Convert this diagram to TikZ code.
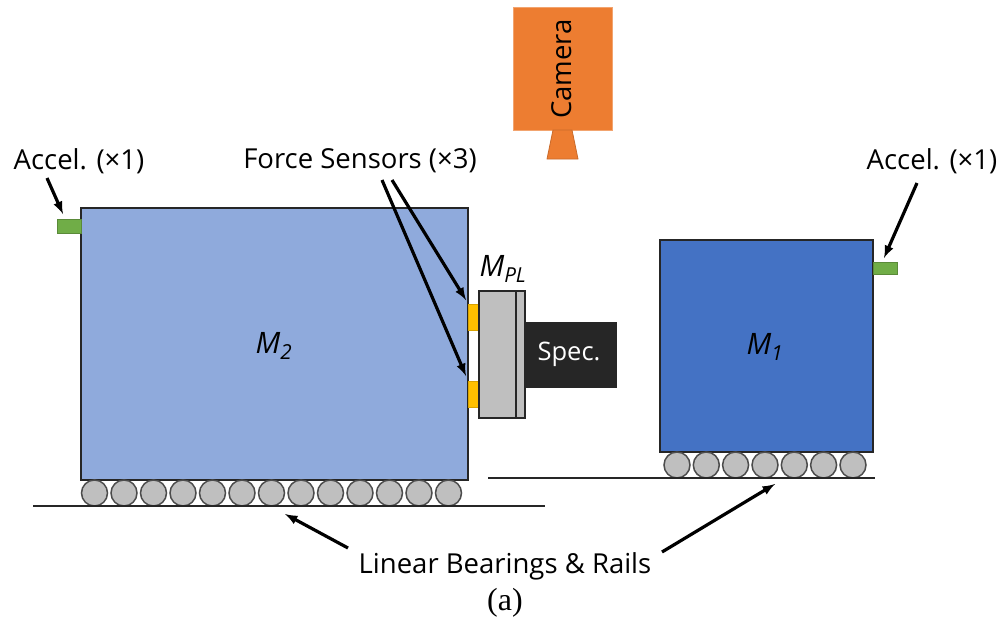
\documentclass[tikz,border=0pt]{standalone}
\usepackage{xcolor}
\usepackage{fontspec}
\setmainfont{Open Sans}
\newfontfamily\legendefont{Liberation Serif}
\definecolor{bleuclair}{HTML}{8FAADC}
\definecolor{bleufonce}{HTML}{4472C4}
\definecolor{orange}{HTML}{ED7D31}
\definecolor{vert}{HTML}{70AD47}
\definecolor{jaune}{HTML}{FFC000}
\definecolor{gris}{HTML}{BFBFBF}
\definecolor{noirspec}{HTML}{262626}
\begin{document}
\begin{tikzpicture}[x=1pt,y=-1pt]
% Styles
\tikzstyle{fleche}=[->,>=latex,line width=3.2pt,black]
\tikzstyle{bloc}=[rectangle,draw=black!85,line width=1.2pt,inner sep=0pt,outer sep=0pt]
\tikzstyle{capteur}=[rectangle,inner sep=0pt,outer sep=0pt,line width=.8pt]
\tikzstyle{rouleau}=[circle,fill=gris,draw=black!70,line width=1.5pt,minimum size=26pt,inner sep=0pt]
\tikzstyle{rail}=[line width=1.2pt,black!85]
\tikzstyle{texte}=[inner sep=0pt,font=\fontsize{27.5}{32}\selectfont]
\tikzstyle{masse}=[inner sep=0pt,font=\fontsize{29.5}{32}\selectfont\itshape]
% Dimensions
\def\NiveauA{493}
\def\NiveauB{465}
\useasboundingbox (0,0) rectangle (1004,619);
% Blocs
\node[bloc,fill=bleuclair,minimum width=387pt,minimum height=272pt] (M2) at (274.5,344) {};
\node[bloc,fill=bleufonce,minimum width=213pt,minimum height=212pt] (M1) at (766.5,346) {};
\node[capteur,fill=orange,draw=orange!70!white,minimum width=99pt,minimum height=123pt] (Cam) at (562.5,68.5) {};
\node[capteur,fill=vert,draw=vert!80!black,minimum width=24pt,minimum height=14pt] (AccG) at (69,226) {};
\node[capteur,fill=vert,draw=vert!80!black,minimum width=24pt,minimum height=12pt] (AccD) at (885,268) {};
\node[capteur,fill=jaune,draw=jaune!85!black,minimum width=10pt,minimum height=26pt] (CapA) at (473,317) {};
\node[capteur,fill=jaune,draw=jaune!85!black,minimum width=10pt,minimum height=26pt] (CapB) at (473,394) {};
\node[bloc,fill=noirspec,minimum width=91pt,minimum height=64pt] (Spec) at (570.5,355) {};
\node[bloc,fill=gris,minimum width=37pt,minimum height=127pt] (PlA) at (497.5,354.5) {};
\node[bloc,fill=gris,minimum width=9pt,minimum height=127pt] (PlB) at (520.5,354.5) {};
% Objectif
\fill[orange,draw=orange!85!black,line width=.8pt] (553,130) -- (572,130) -- (578,159) -- (547,159) -- cycle;
% Rouleaux
\node[rouleau] (Ra) at (94.5,\NiveauA) {};
\node[rouleau] (Rb) at (124,\NiveauA) {};
\node[rouleau] (Rc) at (153.5,\NiveauA) {};
\node[rouleau] (Rd) at (183,\NiveauA) {};
\node[rouleau] (Re) at (212.5,\NiveauA) {};
\node[rouleau] (Rf) at (242,\NiveauA) {};
\node[rouleau] (Rg) at (271.5,\NiveauA) {};
\node[rouleau] (Rh) at (301,\NiveauA) {};
\node[rouleau] (Ri) at (330.5,\NiveauA) {};
\node[rouleau] (Rj) at (360,\NiveauA) {};
\node[rouleau] (Rk) at (389.5,\NiveauA) {};
\node[rouleau] (Rl) at (419,\NiveauA) {};
\node[rouleau] (Rm) at (448.5,\NiveauA) {};
\node[rouleau] (Sa) at (677,\NiveauB) {};
\node[rouleau] (Sb) at (706.3,\NiveauB) {};
\node[rouleau] (Sc) at (735.6,\NiveauB) {};
\node[rouleau] (Sd) at (765,\NiveauB) {};
\node[rouleau] (Se) at (794.3,\NiveauB) {};
\node[rouleau] (Sf) at (823.6,\NiveauB) {};
\node[rouleau] (Sg) at (853,\NiveauB) {};
% Rails
\coordinate (RailAg) at (33,506);
\coordinate (RailAd) at (545,506);
\coordinate (RailBg) at (488,478);
\coordinate (RailBd) at (875,478);
\draw[rail] (RailAg)--(RailAd);
\draw[rail] (RailBg)--(RailBd);
% Textes
\node[texte,rotate=90] (TCam) at (562,69) {Camera};
\node[texte,text=white,font=\fontsize{25.5}{30}\selectfont] (TSpec) at (569,354) {Spec.};
\node[masse] (TM2) at (274,346) {M\textsubscript{2}};
\node[masse] (TM1) at (765,347) {M\textsubscript{1}};
\node[masse] (TMPL) at (503,269) {M\textsubscript{PL}};
\node[texte] (TAccG) at (79,161) {Accel. (×1)};
\node[texte] (TAccD) at (932,161) {Accel. (×1)};
\node[texte] (TForce) at (360,161) {Force Sensors (×3)};
\node[texte] (TRail) at (505,566) {Linear Bearings \& Rails};
\node[inner sep=0pt,font=\legendefont\fontsize{32}{36}\selectfont] (Leg) at (505,603) {(a)};
% Fleches
\coordinate (PAccG) at (47,178);
\coordinate (QAccG) at (63,214);
\coordinate (PAccD) at (917,183);
\coordinate (QAccD) at (884,258);
\coordinate (PForA) at (392,180);
\coordinate (QForA) at (466,300);
\coordinate (PForB) at (382,180);
\coordinate (QForB) at (466,376);
\coordinate (PRailA) at (348,548);
\coordinate (QRailA) at (285,514);
\coordinate (PRailB) at (662,552);
\coordinate (QRailB) at (775,484);
\draw[fleche] (PAccG)--(QAccG);
\draw[fleche] (PAccD)--(QAccD);
\draw[fleche] (PForA)--(QForA);
\draw[fleche] (PForB)--(QForB);
\draw[fleche] (PRailA)--(QRailA);
\draw[fleche] (PRailB)--(QRailB);
\end{tikzpicture}
\end{document}
